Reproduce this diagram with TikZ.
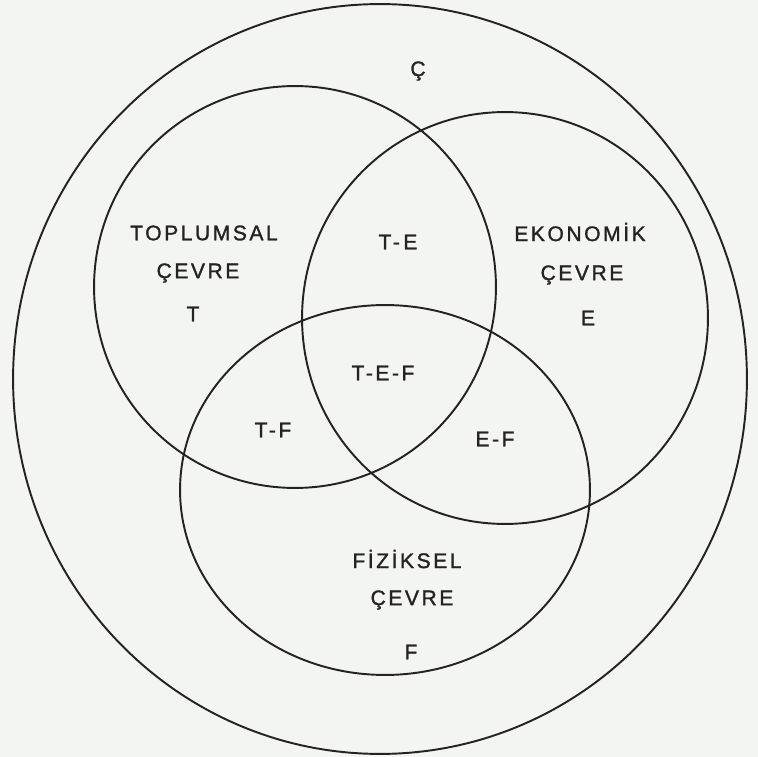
\documentclass[tikz,border=0pt]{standalone}
\usepackage{fontspec}
\newfontfamily\lettering{Liberation Sans}[LetterSpace=12, FakeBold=1.3]
\definecolor{paper}{RGB}{243,245,242}
\definecolor{ink}{RGB}{38,34,30}
\begin{document}
\begin{tikzpicture}[x=0.02cm, y=-0.02cm, font=\lettering\fontsize{12}{14}\selectfont,
      ring/.style={draw=ink, line width=1.1pt},
      lbl/.style={inner sep=0pt, text=ink, align=center}]
    \fill[paper] (0,0) rectangle (758,757);
    \useasboundingbox (0,0) rectangle (758,757);
    % the four environments
    \draw[ring] (380,379) ellipse (7.34cm and 7.5cm);
    \draw[ring] (295,287) circle (4.02cm);
    \draw[ring] (505,318) ellipse (4.06cm and 4.12cm);
    \draw[ring] (385,490) ellipse (4.1cm and 3.7cm);
    % labels
    \node[lbl] (c)   at (418,71)  {Ç};
    \node[lbl] (t1)  at (204,233) {TOPLUMSAL};
    \node[lbl] (t2)  at (198,273) {ÇEVRE};
    \node[lbl] (t3)  at (193,314) {T};
    \node[lbl] (e1)  at (580,232) {EKONOMİK};
    \node[lbl] (e2)  at (582,275) {ÇEVRE};
    \node[lbl] (e3)  at (588,318) {E};
    \node[lbl] (f1)  at (407,559) {FİZİKSEL};
    \node[lbl] (f2)  at (412,600) {ÇEVRE};
    \node[lbl] (f3)  at (411,652) {F};
    \node[lbl] (te)  at (398,242) {T-\,E};
    \node[lbl] (tef) at (383,373) {T-E-F};
    \node[lbl] (tf)  at (273,430) {T-F};
    \node[lbl] (ef)  at (495,439) {E-F};
  \end{tikzpicture}
\end{document}
